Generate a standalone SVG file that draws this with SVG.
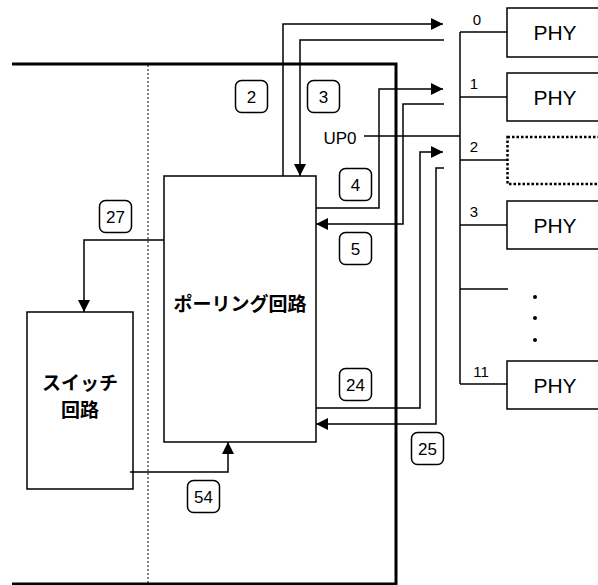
<svg xmlns="http://www.w3.org/2000/svg" width="598" height="585" viewBox="0 0 598 585">
<defs>
<marker id="arr" viewBox="0 0 12 12" refX="12" refY="6" markerWidth="12" markerHeight="12" markerUnits="userSpaceOnUse" orient="auto">
<path d="M0,0 L12,6 L0,12 z" fill="#000"/>
</marker>
<style>
.ln{fill:none;stroke:#000;stroke-width:1.5}
.thick{fill:none;stroke:#000;stroke-width:3}
.box{fill:#fff;stroke:#000;stroke-width:1.5}
.tag{fill:#fff;stroke:#000;stroke-width:1.5}
.num{font-family:"Liberation Sans",Arial,sans-serif;font-size:17px;text-anchor:middle}
.bus{font-family:"Liberation Sans",Arial,sans-serif;font-size:15px;text-anchor:middle}
.phy{font-family:"Liberation Sans",Arial,sans-serif;font-size:21px;text-anchor:middle}
.jp{font-family:"Noto Sans CJK JP",sans-serif;font-size:19px;font-weight:bold;text-anchor:middle}
.dot{fill:#000}
</style>
</defs>
<rect width="598" height="585" fill="#fff"/>

<g id="frame">
<path class="thick" d="M12,64 H396 V584 H12"/>
<line x1="148" y1="65" x2="148" y2="584" stroke="#000" stroke-width="1" stroke-dasharray="2,2"/>
</g>

<g id="polling">
<rect class="box" x="164" y="176" width="152" height="266"/>
<text class="jp" x="240" y="311">ポーリング回路</text>
</g>

<g id="switch">
<rect class="box" x="27" y="312" width="106" height="177"/>
<text class="jp" x="80" y="390">スイッチ</text>
<text class="jp" x="80" y="417">回路</text>
</g>

<g id="phy0">
<rect class="box" x="507" y="8" width="100" height="49"/>
<text class="phy" x="555" y="40">PHY</text>
</g>
<g id="phy1">
<rect class="box" x="507" y="73" width="100" height="48"/>
<text class="phy" x="555" y="105">PHY</text>
</g>
<g id="phy2">
<rect x="507.5" y="137" width="100" height="47" fill="#fff" stroke="#000" stroke-width="2.5" stroke-dasharray="2.5,2"/>
</g>
<g id="phy3">
<rect class="box" x="507" y="201" width="100" height="48"/>
<text class="phy" x="555" y="233">PHY</text>
</g>
<g id="phy11">
<rect class="box" x="507" y="361" width="100" height="48"/>
<text class="phy" x="555" y="393">PHY</text>
</g>
<g id="dots">
<circle class="dot" cx="535" cy="297" r="2"/>
<circle class="dot" cx="535" cy="318" r="2"/>
<circle class="dot" cx="535" cy="340" r="2"/>
</g>

<g id="connectors">
<path class="ln" d="M460,32 V384"/>
<path class="ln" d="M460,32 H507"/>
<path class="ln" d="M460,97 H507"/>
<path class="ln" d="M460,160 H507"/>
<path class="ln" d="M460,225 H507"/>
<path class="ln" d="M460,289 H508"/>
<path class="ln" d="M460,384 H507"/>
<path class="ln" d="M364,136 H460"/>

<path class="ln" d="M283,176 V24 H443" marker-end="url(#arr)"/>
<path class="ln" d="M444,40 H300 V176" marker-end="url(#arr)"/>
<path class="ln" d="M316,208 H379 V89 H443" marker-end="url(#arr)"/>
<path class="ln" d="M444,104 H403 V224 H316" marker-end="url(#arr)"/>
<path class="ln" d="M316,408 H420 V152 H443" marker-end="url(#arr)"/>
<path class="ln" d="M444,168 H436 V424 H316" marker-end="url(#arr)"/>
<path class="ln" d="M164,240 H84 V312" marker-end="url(#arr)"/>
<path class="ln" d="M130,472 H228 V442" marker-end="url(#arr)"/>
</g>

<g id="labels">
<text class="bus" x="477" y="25">0</text>
<text class="bus" x="474" y="89">1</text>
<text class="bus" x="474" y="152">2</text>
<text class="bus" x="474" y="217">3</text>
<text class="bus" x="481" y="377">11</text>
<text class="num" x="340" y="144">UP0</text>

<rect class="tag" x="235.5" y="80.5" width="32" height="32" rx="6"/>
<text class="num" x="251.5" y="102.5">2</text>
<rect class="tag" x="307.5" y="80.5" width="32" height="32" rx="6"/>
<text class="num" x="323.5" y="102.5">3</text>
<rect class="tag" x="339.5" y="168.5" width="32" height="32" rx="6"/>
<text class="num" x="355.5" y="190.5">4</text>
<rect class="tag" x="339.5" y="232.5" width="32" height="32" rx="6"/>
<text class="num" x="355.5" y="254.5">5</text>
<rect class="tag" x="339.5" y="368.5" width="32" height="32" rx="6"/>
<text class="num" x="355.5" y="390.5">24</text>
<rect class="tag" x="411.5" y="432.5" width="32" height="32" rx="6"/>
<text class="num" x="427.5" y="454.5">25</text>
<rect class="tag" x="99.5" y="200.5" width="32" height="32" rx="6"/>
<text class="num" x="115.5" y="222.5">27</text>
<rect class="tag" x="187.5" y="480.5" width="32" height="32" rx="6"/>
<text class="num" x="203.5" y="502.5">54</text>
</g>
</svg>
